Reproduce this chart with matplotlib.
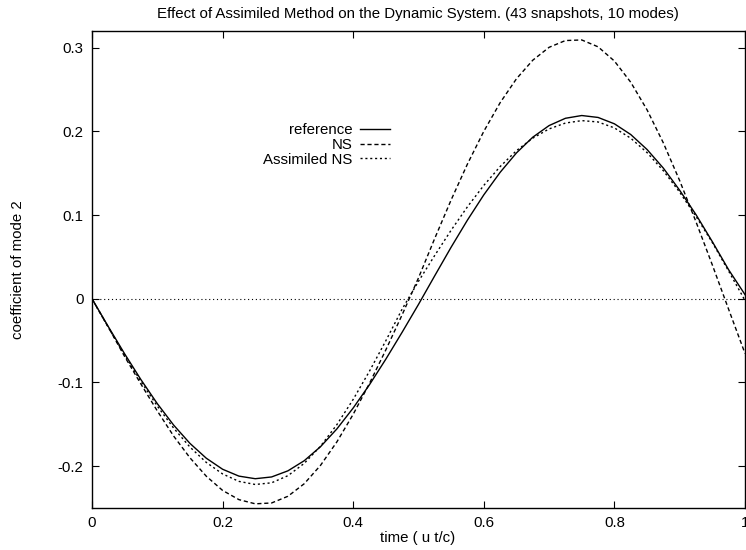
import matplotlib
matplotlib.use("Agg")
import matplotlib.pyplot as plt

plt.rcParams['font.family'] = ['Liberation Sans', 'DejaVu Sans']
plt.rcParams['axes.unicode_minus'] = False

# time samples
t = [0.0, 0.025, 0.05, 0.075, 0.1, 0.125, 0.15, 0.175, 0.2, 0.225, 0.25,
     0.275, 0.3, 0.325, 0.35, 0.375, 0.4, 0.425, 0.45, 0.475, 0.5,
     0.525, 0.55, 0.575, 0.6, 0.625, 0.65, 0.675, 0.7, 0.725, 0.75,
     0.775, 0.8, 0.825, 0.85, 0.875, 0.9, 0.925, 0.95, 0.975, 1.0]

reference = [0.0, -0.0333, -0.0658, -0.0967, -0.1253, -0.1509, -0.1728, -0.1905, -0.2037, -0.2119, -0.2150,
             -0.2129, -0.2056, -0.1935, -0.1767, -0.1555, -0.1305, -0.1026, -0.0721, -0.0399, -0.0067,
             0.0277, 0.0617, 0.0941, 0.1242, 0.1511, 0.1743, 0.1931, 0.2070, 0.2157, 0.2190,
             0.2167, 0.2091, 0.1963, 0.1784, 0.1561, 0.1296, 0.1005, 0.0682, 0.0346, 0.005]

ns = [0.0, -0.034, -0.069, -0.102, -0.134, -0.164, -0.190, -0.212, -0.229, -0.240, -0.245,
      -0.244, -0.236, -0.221, -0.199, -0.171, -0.138, -0.101, -0.061, -0.019, 0.025,
      0.0724, 0.1182, 0.1611, 0.2001, 0.2343, 0.2629, 0.2851, 0.3005, 0.3086, 0.3093,
      0.3011, 0.2841, 0.2588, 0.2258, 0.1862, 0.1411, 0.0919, 0.0404, -0.0127, -0.0653]

assim = [0.0, -0.0341, -0.0673, -0.0989, -0.1282, -0.1545, -0.1772, -0.1955, -0.2093, -0.2182, -0.2219,
         -0.2199, -0.2114, -0.1967, -0.1761, -0.1504, -0.1202, -0.0864, -0.0501, -0.0122, 0.0209,
         0.0520, 0.0820, 0.1100, 0.1355, 0.1580, 0.1770, 0.1920, 0.2030, 0.2100, 0.2129,
         0.2113, 0.2042, 0.1919, 0.1747, 0.1530, 0.1273, 0.0984, 0.0672, 0.0330, -0.002]

xticks = [0, 0.2, 0.4, 0.6, 0.8, 1.0]
xticklabels = ["0", "0.2", "0.4", "0.6", "0.8", "1"]
yticks = [-0.2, -0.1, 0, 0.1, 0.2, 0.3]
yticklabels = ["-0.2", "-0.1", "0", "0.1", "0.2", "0.3"]

FS = 10.8
W, H = 746, 550
fig = plt.figure(figsize=(W / 100, H / 100), dpi=100)
ax = fig.add_axes([92 / W, 1 - 508 / H, 653 / W, 477 / H])

ax.plot([0, 1], [0, 0], color='black', lw=0.8, linestyle=(0, (1, 2.5)))
ax.plot(t, reference, color='black', lw=1.0, linestyle='-', label='reference')
ax.plot(t, ns, color='black', lw=1.0, linestyle=(0, (3, 2)), label='NS')
ax.plot(t, assim, color='black', lw=1.0, linestyle=(0, (1.5, 2)), label='Assimiled NS')

ax.set_xlim(0, 1)
ax.set_ylim(-0.25, 0.32)
ax.set_xticks(xticks)
ax.set_xticklabels(xticklabels)
ax.set_yticks(yticks)
ax.set_yticklabels(yticklabels)
ax.tick_params(direction='in', length=5, width=0.8, top=True, right=True,
               labelsize=FS, pad=6)
for s in ax.spines.values():
    s.set_linewidth(1.0)

fig.text(418 / W, 1 - 14 / H, "Effect of Assimiled Method on the Dynamic System. (43 snapshots, 10 modes)",
         ha='center', va='center', fontsize=FS)
fig.text(418 / W, 1 - 538 / H, "time ( u t/c)", ha='center', va='center', fontsize=FS)
fig.text(18 / W, 1 - 270 / H, "coefficient of mode 2", ha='center', va='center',
         rotation=90, fontsize=FS)

handles, labels = ax.get_legend_handles_labels()
ax.legend(handles, labels, loc='upper right', bbox_to_anchor=(390 / W, 1 - 123 / H),
          bbox_transform=fig.transFigure, frameon=False, markerfirst=False,
          fontsize=FS, handlelength=2.0, handletextpad=0.5, borderpad=0,
          borderaxespad=0, labelspacing=0.05)

fig.savefig("out.png", dpi=100)
